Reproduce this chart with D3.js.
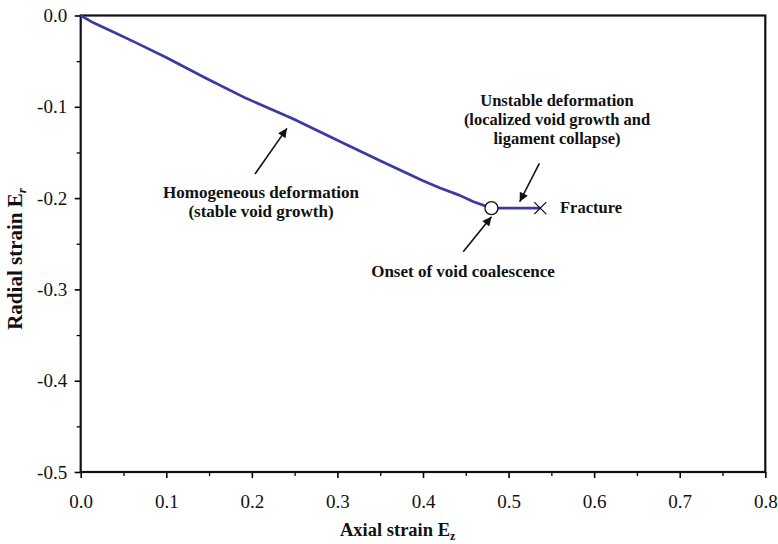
<!DOCTYPE html>
<html>
<head>
<meta charset="utf-8">
<script src="https://cdn.jsdelivr.net/npm/d3@7"></script>
<style>
body{margin:0;background:#fff;}
text{font-family:"Liberation Serif","Times New Roman",serif;}
</style>
</head>
<body>
<svg id="chart" width="778" height="544"></svg>
<script>
// Data
const axialStrain  = [0, 0.015, 0.04, 0.065, 0.1, 0.147, 0.194, 0.248, 0.303, 0.35, 0.4, 0.42, 0.443, 0.459, 0.48];
const radialStrain = [0, -0.008, -0.019, -0.030, -0.046, -0.069, -0.091, -0.113, -0.138, -0.159, -0.181, -0.189, -0.197, -0.204, -0.211];
const onsetPoint = [0.48, -0.211];
const fracturePoint = [0.537, -0.211];
const xTicks = [0, 0.1, 0.2, 0.3, 0.4, 0.5, 0.6, 0.7, 0.8];
const yTicks = [0, -0.1, -0.2, -0.3, -0.4, -0.5];
const xMinor = [0.05, 0.15, 0.25, 0.35, 0.45, 0.55, 0.65, 0.75];
const yMinor = [-0.05, -0.15, -0.25, -0.35, -0.45];

const svg = d3.select("#chart");
const m = {left:80.7, top:15.5, right:12.7, bottom:72};
const W = 778, H = 544;
const x = d3.scaleLinear().domain([0,0.8]).range([m.left, W - m.right]);
const y = d3.scaleLinear().domain([-0.5,0]).range([H - m.bottom, m.top]);

// minor ticks
svg.append("g").attr("transform",`translate(0,${y(-0.5)})`)
  .call(d3.axisBottom(x).tickValues(xMinor).tickSize(4).tickFormat(""))
  .call(g=>g.select(".domain").remove()).selectAll("line").attr("stroke-width",1.3);
svg.append("g").attr("transform",`translate(${x(0)},0)`)
  .call(d3.axisLeft(y).tickValues(yMinor).tickSize(4).tickFormat(""))
  .call(g=>g.select(".domain").remove()).selectAll("line").attr("stroke-width",1.3);

const xAxis = svg.append("g").attr("transform",`translate(0,${y(-0.5)})`)
  .call(d3.axisBottom(x).tickValues(xTicks).tickSize(6).tickPadding(17).tickFormat(d3.format(".1f")));
xAxis.select(".domain").remove();
xAxis.selectAll("line").attr("stroke-width",1.6);
xAxis.selectAll("text").attr("font-size",19).attr("fill","#111");

const yAxis = svg.append("g").attr("transform",`translate(${x(0)},0)`)
  .call(d3.axisLeft(y).tickValues(yTicks).tickSize(6).tickPadding(7.5).tickFormat(d=>d===0?"0.0":d3.format(".1f")(d).replace("\u2212","-")));
yAxis.select(".domain").remove();
yAxis.selectAll("line").attr("stroke-width",1.6);
yAxis.selectAll("text").attr("font-size",19).attr("fill","#111");

// frame
svg.append("rect").attr("x",x(0)).attr("y",y(0)).attr("width",x(0.8)-x(0)).attr("height",y(-0.5)-y(0))
  .attr("fill","none").attr("stroke","#111").attr("stroke-width",2.2);

// curve
const pts = axialStrain.map((d,i)=>[d, radialStrain[i]]);
const line = d3.line().x(d=>x(d[0])).y(d=>y(d[1]));
svg.append("path").datum(pts).attr("d",line).attr("fill","none")
  .attr("stroke","#3a3aa2").attr("stroke-width",2.7).attr("stroke-linejoin","round");
svg.append("path").datum([onsetPoint, fracturePoint]).attr("d",line).attr("fill","none")
  .attr("stroke","#3a3aa2").attr("stroke-width",2.7);

// onset circle
svg.append("circle").attr("cx",x(onsetPoint[0])).attr("cy",y(onsetPoint[1])).attr("r",6.5)
  .attr("fill","#fff").attr("stroke","#111").attr("stroke-width",1.3);
// fracture cross
const fx = x(fracturePoint[0]), fy = y(fracturePoint[1]);
svg.append("path").attr("d",`M${fx-6},${fy-6}L${fx+6},${fy+6}M${fx-6},${fy+6}L${fx+6},${fy-6}`)
  .attr("stroke","#111").attr("stroke-width",1.3);

// arrows
svg.append("defs").append("marker").attr("id","ah").attr("viewBox","0 0 10 10")
  .attr("refX",10).attr("refY",5).attr("markerWidth",11).attr("markerHeight",9)
  .attr("markerUnits","userSpaceOnUse").attr("orient","auto")
  .append("path").attr("d","M0,0L10,5L0,10Z").attr("fill","#111");
const arrows = [
  [[0.2037,-0.1736],[0.241,-0.1236]],
  [[0.536,-0.162],[0.513,-0.204]],
  [[0.447,-0.2587],[0.480,-0.2204]]
];
arrows.forEach(a=>{
  svg.append("line").attr("x1",x(a[0][0])).attr("y1",y(a[0][1])).attr("x2",x(a[1][0])).attr("y2",y(a[1][1]))
    .attr("stroke","#111").attr("stroke-width",1.6).attr("marker-end","url(#ah)");
});

// annotation texts
function label(lines, cx, cy, anchor, fs, lh){
  lines.forEach((t,i)=>{
    svg.append("text").attr("x",cx).attr("y",cy+i*lh).attr("text-anchor",anchor)
      .attr("font-size",fs).attr("font-weight","bold").attr("fill","#111").text(t);
  });
}
label(["Homogeneous deformation","(stable void growth)"], 261, 198, "middle", 17, 19);
label(["Unstable deformation","(localized void growth and","ligament collapse)"], 557, 106, "middle", 16.5, 19);
label(["Fracture"], 560, 213, "start", 16.5, 0);
label(["Onset of void coalescence"], 463, 277, "middle", 17, 0);

// axis titles
const xt = svg.append("text").attr("x",340).attr("y",536).attr("text-anchor","start")
  .attr("font-size",18.5).attr("font-weight","bold").attr("fill","#111");
xt.append("tspan").text("Axial strain  E");
xt.append("tspan").attr("font-size",12).attr("dy",4).text("z");

const yt = svg.append("text").attr("transform","translate(22,259) rotate(-90)").attr("text-anchor","middle")
  .attr("font-size",21).attr("font-weight","bold").attr("fill","#111");
yt.append("tspan").text("Radial strain  E");
yt.append("tspan").attr("font-size",13).attr("font-style","italic").attr("dy",4).text("r");
</script>
</body>
</html>
